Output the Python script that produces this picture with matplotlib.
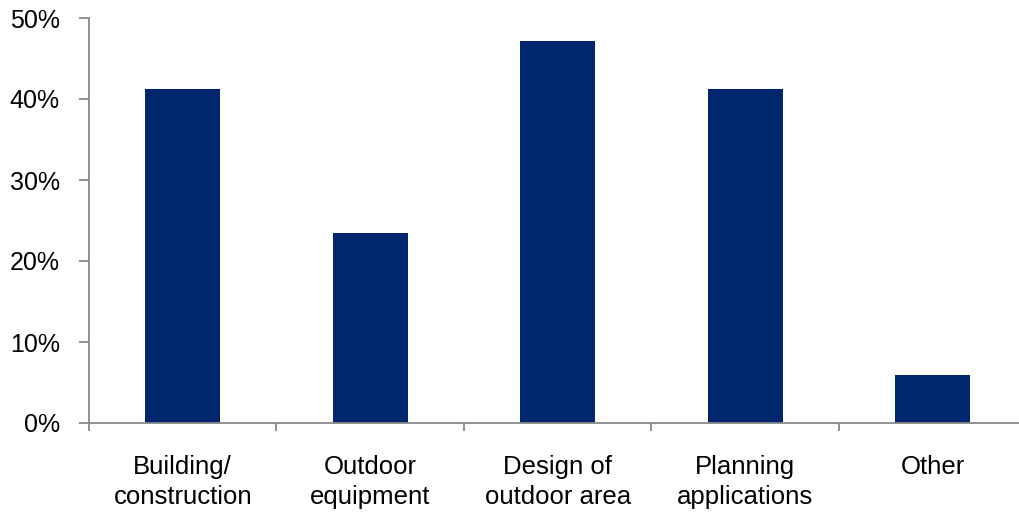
import matplotlib
matplotlib.use("Agg")
import matplotlib.pyplot as plt
from matplotlib.ticker import FuncFormatter

categories = ["Building/\nconstruction", "Outdoor\nequipment", "Design of\noutdoor area",
              "Planning\napplications", "Other"]
shares = [41.2, 23.5, 47.1, 41.2, 5.9]

plt.rcParams['font.family'] = ['Liberation Sans', 'DejaVu Sans']

W, H = 1020, 513
fig = plt.figure(figsize=(W / 100, H / 100), dpi=100)
ax = fig.add_axes([89 / W, (H - 423) / H, 937.5 / W, 405 / H])

pos = [i + 0.5 for i in range(len(categories))]
ax.bar(pos, shares, width=0.4, color="#00266F", zorder=2)

ax.set_xlim(0, len(categories))
ax.set_ylim(0, 50)
ax.set_yticks(range(0, 51, 10))
ax.yaxis.set_major_formatter(FuncFormatter(lambda v, p: f"{v:.0f}%"))

# category boundaries carry the tick marks, labels sit at the centres
ax.set_xticks(range(len(categories) + 1))
ax.set_xticklabels([])
ax.set_xticks(pos, minor=True)
ax.set_xticklabels(categories, minor=True, fontsize=18.5, linespacing=1.3)
ax.tick_params(axis="x", which="minor", length=0, pad=23)
ax.tick_params(axis="x", which="major", direction="out", length=6, width=1.3, color="#888888")
ax.tick_params(axis="y", direction="out", length=7, width=1.3, color="#888888",
               labelsize=18, pad=14)

for s in ["top", "right"]:
    ax.spines[s].set_visible(False)
for s in ["left", "bottom"]:
    ax.spines[s].set_color("#888888")
    ax.spines[s].set_linewidth(1.3)

fig.savefig("out.png", dpi=100)
